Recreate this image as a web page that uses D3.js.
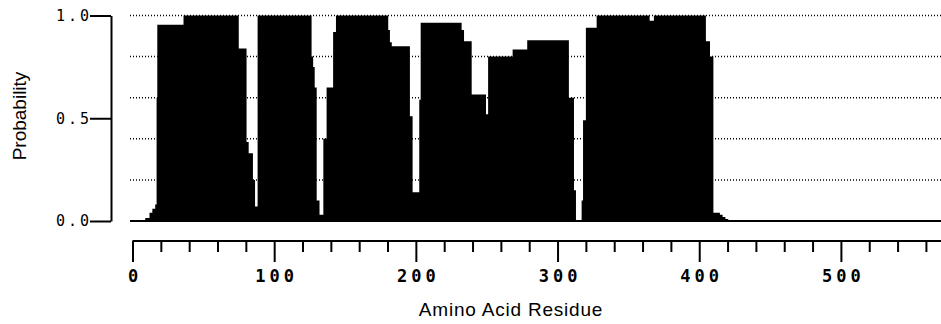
<!DOCTYPE html>
<html>
<head>
<meta charset="utf-8">
<script src="https://cdn.jsdelivr.net/npm/d3@7"></script>
<style>
  body { margin: 0; background: #fff; }
  svg { display: block; }
</style>
</head>
<body>
<div id="chart"></div>
<script>
// residue where a step starts, and the probability held from there on
const residues = [0, 9, 12, 14, 16, 17, 17.5, 36, 75, 80.5, 82, 85, 86.5, 88.3, 126.4, 127.5, 128.6, 130, 132,
  134.7, 137, 141.6, 143.6, 180.5, 181.7, 183, 195.8, 197.7, 202.4, 203.4, 232.3, 234, 239.4, 249.5, 251,
  268.3, 278.6, 308, 311.6, 313, 317, 318, 320, 327.6, 365, 368, 404.7, 407.6, 410, 414.6, 416.5, 418.5, 420.5, 571];
const probability = [0, 0.015, 0.04, 0.06, 0.08, 0.6, 0.955, 1.0, 0.84, 0.385, 0.33, 0.2, 0.07, 1.0, 0.8, 0.75, 0.65, 0.1, 0.03,
  0.4, 0.65, 0.92, 1.0, 0.93, 0.87, 0.85, 0.51, 0.14, 0.59, 0.965, 0.93, 0.875, 0.615, 0.52, 0.8,
  0.834, 0.88, 0.6, 0.15, 0.005, 0.1, 0.49, 0.94, 1.0, 0.975, 1.0, 0.875, 0.8, 0.04, 0.03, 0.02, 0.01, 0, 0];

const yTicks = [0, 0.5, 1.0];
const gridValues = [0.2, 0.4, 0.6, 0.8, 1.0];
const xTicks = d3.range(0, 561, 20);
const xLabels = [0, 100, 200, 300, 400, 500];

const width = 941, height = 324;
const points = residues.map((r, i) => ({ r: r, p: probability[i] }));

const svg = d3.select('#chart')
  .append('svg')
  .attr('width', width)
  .attr('height', height);

const x = d3.scaleLinear().domain([0, 571]).range([132.5, 941.5]);
const y = d3.scaleLinear().domain([0, 1]).range([221, 15.5]);

// dotted grid
svg.append('g')
  .selectAll('line')
  .data(gridValues)
  .enter().append('line')
  .attr('x1', 130)
  .attr('x2', width)
  .attr('y1', d => y(d))
  .attr('y2', d => y(d))
  .attr('stroke', '#000')
  .attr('stroke-width', 1.5)
  .attr('stroke-dasharray', '1,2');

// probability profile
const area = d3.area()
  .x(d => x(d.r))
  .y0(y(0))
  .y1(d => y(d.p))
  .curve(d3.curveStepAfter);

svg.append('path')
  .datum(points)
  .attr('d', area)
  .attr('fill', '#000');

svg.append('line')
  .attr('x1', 130)
  .attr('x2', width)
  .attr('y1', y(0))
  .attr('y2', y(0))
  .attr('stroke', '#000')
  .attr('stroke-width', 2);

// y axis
const yAxis = svg.append('g')
  .attr('transform', 'translate(111,0)')
  .call(d3.axisLeft(y)
    .tickValues(yTicks)
    .tickSize(21)
    .tickSizeOuter(0)
    .tickPadding(-2)
    .tickFormat(d3.format('.1f')));

yAxis.select('.domain').attr('stroke-width', 2);
yAxis.selectAll('.tick line').attr('stroke-width', 2);
yAxis.selectAll('.tick text')
  .attr('font-family', 'DejaVu Sans Mono')
  .attr('font-size', 15)
  .attr('letter-spacing', 3)
  .attr('fill', '#000');

// x axis
const xAxis = svg.append('g')
  .attr('transform', 'translate(0,241)')
  .call(d3.axisBottom(x)
    .tickValues(xTicks)
    .tickSize(11)
    .tickSizeOuter(0)
    .tickFormat(d => xLabels.includes(d) ? d : ''));

xAxis.select('.domain')
  .attr('d', `M${x(0)},0H${width}`)
  .attr('stroke-width', 2);
xAxis.selectAll('.tick line')
  .attr('stroke-width', 2)
  .attr('y2', d => d % 100 === 0 ? 21 : 11);
xAxis.selectAll('.tick text')
  .attr('y', 29)
  .attr('dx', 2)
  .attr('font-family', 'DejaVu Sans Mono')
  .attr('font-weight', 'bold')
  .attr('font-size', 17)
  .attr('letter-spacing', 4)
  .attr('fill', '#000');

// axis titles
svg.append('text')
  .attr('x', 511)
  .attr('y', 316)
  .attr('text-anchor', 'middle')
  .attr('font-family', 'Liberation Sans')
  .attr('font-size', 19)
  .attr('letter-spacing', 0.8)
  .text('Amino Acid Residue');

svg.append('text')
  .attr('transform', 'translate(26,116) rotate(-90)')
  .attr('text-anchor', 'middle')
  .attr('font-family', 'Liberation Sans')
  .attr('font-size', 19)
  .text('Probability');
</script>
</body>
</html>
